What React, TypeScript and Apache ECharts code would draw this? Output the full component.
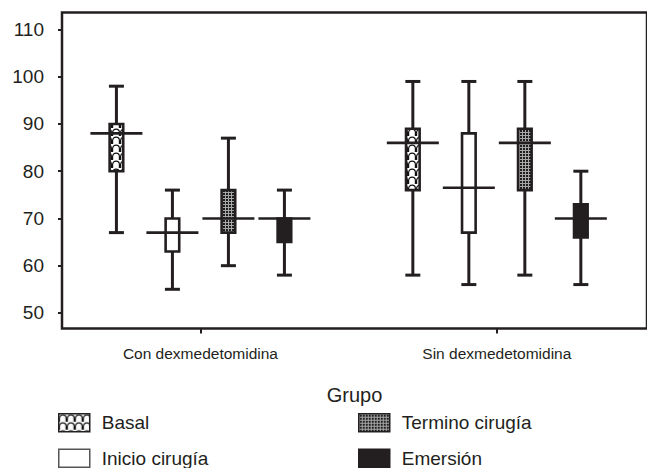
import React, { useEffect, useRef } from "react";
import * as echarts from "echarts";

// ---- data ----
const groups = ["Con dexmedetomidina", "Sin dexmedetomidina"];
const phases = ["Basal", "Inicio cirugía", "Termino cirugía", "Emersión"];
const yTicks = [50, 60, 70, 80, 90, 100, 110];
// [min, Q1, median, Q3, max] per group
const basal = [
  [67, 80, 88, 90, 98],
  [58, 76, 86, 89, 99],
];
const inicio = [
  [55, 63, 67, 70, 76],
  [56, 67, 76.5, 88, 99],
];
const termino = [
  [60, 67, 70, 76, 87],
  [58, 76, 86, 89, 99],
];
const emersion = [
  [58, 65, 70, 70, 76],
  [56, 66, 70, 73, 80],
];

const ink = "#231f20";
const FONT = '"Liberation Sans", Arial, Helvetica, sans-serif';

function makeBasalPattern() {
  const c = document.createElement("canvas");
  c.width = 8;
  c.height = 8;
  const ctx = c.getContext("2d")!;
  ctx.fillStyle = "#fff";
  ctx.fillRect(0, 0, 8, 8);
  ctx.strokeStyle = "#111";
  ctx.lineWidth = 1.2;
  ctx.beginPath();
  ctx.moveTo(0.6, 8);
  ctx.lineTo(0.6, 4.5);
  ctx.arc(4, 4.5, 3.4, Math.PI, 0, false);
  ctx.lineTo(7.4, 8);
  ctx.stroke();
  return { image: c, repeat: "repeat" };
}

function makeTerminoPattern() {
  const c = document.createElement("canvas");
  c.width = 3;
  c.height = 3;
  const ctx = c.getContext("2d")!;
  ctx.fillStyle = "#1e1e1e";
  ctx.fillRect(0, 0, 3, 3);
  ctx.fillStyle = "#a8a8a8";
  ctx.fillRect(0, 0, 3, 1);
  ctx.fillRect(0, 0, 1, 3);
  return { image: c, repeat: "repeat" };
}

export default function App() {
  const ref = useRef<HTMLDivElement>(null);

  useEffect(() => {
    if (!ref.current) return;
    const chart = echarts.init(ref.current, undefined, { renderer: "svg" });

    const fills: any[] = [makeBasalPattern(), "#ffffff", makeTerminoPattern(), "#231f20"];
    const sets = [basal, inicio, termino, emersion];

    const series = sets.map((set, pIdx) => ({
      type: "custom",
      name: phases[pIdx],
      itemStyle: { color: fills[pIdx], borderColor: ink, borderWidth: 1.5 },
      data: set.map((d, gi) => [gi, ...d]),
      encode: { x: 0, y: [1, 2, 3, 4, 5] },
      renderItem: (params: any, api: any) => {
        const g = api.value(0);
        const xc = api.coord([g, 60])[0] + (pIdx - 1.5) * 56;
        const y = (k: number) => api.coord([g, api.value(k)])[1];
        const yMin = y(1);
        const yQ1 = y(2);
        const yMed = y(3);
        const yQ3 = y(4);
        const yMax = y(5);
        return {
          type: "group",
          children: [
            { type: "line", shape: { x1: xc, y1: yMin, x2: xc, y2: yMax }, style: { stroke: ink, lineWidth: 3 } },
            { type: "line", shape: { x1: xc - 7.5, y1: yMax, x2: xc + 7.5, y2: yMax }, style: { stroke: ink, lineWidth: 3 } },
            { type: "line", shape: { x1: xc - 7.5, y1: yMin, x2: xc + 7.5, y2: yMin }, style: { stroke: ink, lineWidth: 3 } },
            {
              type: "rect",
              shape: { x: xc - 6.8, y: yQ3, width: 13.6, height: yQ1 - yQ3 },
              style: { fill: fills[pIdx], stroke: ink, lineWidth: 2.6 },
            },
            { type: "line", shape: { x1: xc - 26, y1: yMed, x2: xc + 26, y2: yMed }, style: { stroke: ink, lineWidth: 2.6 } },
          ],
        };
      },
    }));

    const legendItem = (i: number) => ({
      name: phases[i],
      itemStyle: { color: fills[i], borderColor: i === 1 ? "#555" : ink, borderWidth: 1.5 },
    });

    const legendCommon = {
      orient: "vertical",
      top: 413,
      padding: 0,
      itemWidth: 31,
      itemHeight: 18,
      itemGap: 16,
      selectedMode: false,
      icon: "rect",
      textStyle: { fontFamily: FONT, fontSize: 19, color: ink, padding: [0, 0, 0, 7] },
    };

    chart.setOption({
      animation: false,
      grid: {
        left: 62,
        top: 12.5,
        right: -15,
        bottom: 139.5,
        show: true,
        borderColor: ink,
        borderWidth: 2.5,
        backgroundColor: "transparent",
      },
      xAxis: {
        type: "value",
        min: -0.467,
        max: 1.5066,
        axisLine: { show: false, onZero: false },
        splitLine: { show: false },
        axisTick: { show: true, customValues: [0, 1], length: 5, lineStyle: { color: ink, width: 2 } },
        axisLabel: {
          customValues: [0, 1],
          formatter: (v: number) => groups[Math.round(v)] ?? "",
          fontFamily: FONT,
          fontSize: 15.5,
          color: ink,
          margin: 17,
        },
        name: "Grupo",
        nameLocation: "middle",
        nameGap: 56,
        nameTextStyle: { fontFamily: FONT, fontSize: 20, color: ink },
      },
      yAxis: {
        type: "value",
        min: 46.7,
        max: 113.6,
        axisLine: { show: false, onZero: false },
        splitLine: { show: false },
        axisTick: { show: true, customValues: yTicks, length: 4, lineStyle: { color: ink, width: 2 } },
        axisLabel: {
          customValues: yTicks,
          fontFamily: FONT,
          fontSize: 19,
          color: ink,
          margin: 18,
        },
      },
      legend: [
        { ...legendCommon, left: 58, data: [legendItem(0), legendItem(1)] },
        { ...legendCommon, left: 358, data: [legendItem(2), legendItem(3)] },
      ],
      series,
    });

    return () => chart.dispose();
  }, []);

  return (
    <div
      ref={ref}
      style={{ position: "fixed", left: 0, top: 0, width: 647, height: 468, background: "#fff" }}
    />
  );
}
